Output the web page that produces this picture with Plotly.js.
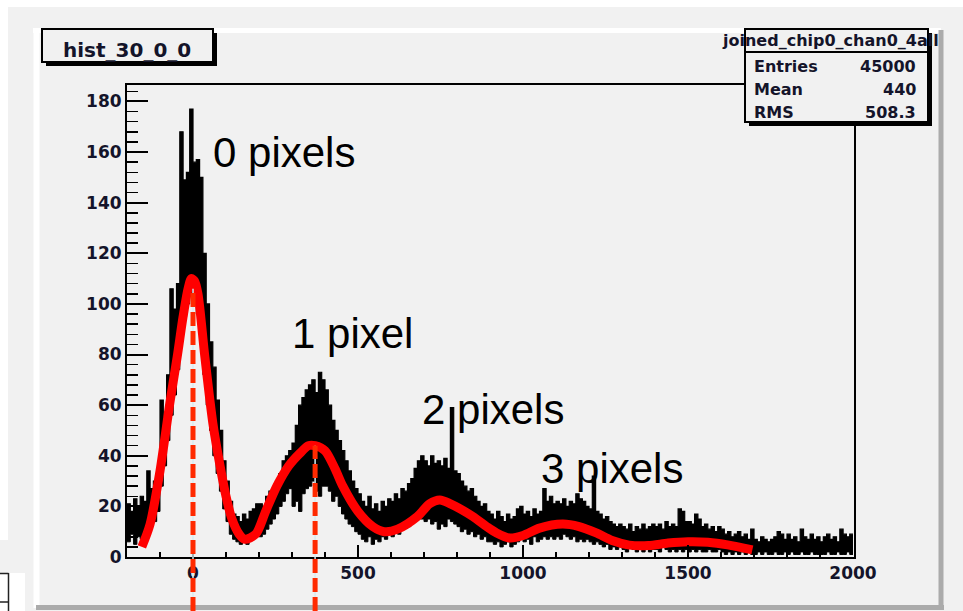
<!DOCTYPE html>
<html><head><meta charset="utf-8">
<script src="https://cdn.plot.ly/plotly-3.0.1.min.js"></script>
<style>html,body{margin:0;padding:0;background:#ffffff;} #chart{width:963px;height:611px;}</style>
</head><body><div id="chart"></div>
<script>
// ---------- data ----------
const binStart = -200;
const binWidth = 10;
// upper envelope of the noisy histogram, one value per 10-unit bin from -200 to 2000
const histHigh = [
  21,18,23,20,24,22,34,27,30,35,
  62,55,72,106,98,108,168,149,152,177,
  156,157,150,120,100,85,75,62,50,38,
  30,22,17,16,14,17,15,18,19,21,
  21,20,24,26,27,30,33,38,40,42,
  45,52,60,63,66,68,70,65,73,70,
  66,60,54,50,46,42,38,34,30,27,
  25,22,20,24,19,21,18,22,20,23,
  22,25,23,27,26,29,31,35,38,40,
  38,36,40,37,38,36,39,35,59,34,
  33,30,28,26,27,24,22,20,21,18,
  17,15,18,16,14,17,15,16,19,20,
  17,18,16,19,17,18,27,22,24,21,
  22,21,23,20,22,21,25,23,22,20,
  19,32,18,17,15,16,14,13,12,13,
  12,11,13,10,12,11,13,11,12,13,
  12,13,11,14,12,13,12,19,18,14,
  14,13,17,15,12,13,11,12,10,12,
  11,9,10,8,9,10,8,9,7,11,
  7,6,8,7,6,7,8,10,9,7,
  9,7,8,6,11,8,7,9,7,8,
  6,8,9,7,8,6,11,9,8,9
];
// lower envelope of the noisy histogram, same bins
const histLow = [
  6,9,5,8,7,10,9,12,14,18,
  28,36,46,56,64,74,85,95,100,104,
  102,96,86,72,60,50,40,33,26,19,
  14,9,7,6,5,6,5,7,8,9,
  8,9,11,13,15,17,20,22,25,27,
  20,22,18,25,27,28,30,26,24,28,
  28,26,22,24,20,17,15,13,12,10,
  9,7,6,8,5,7,6,8,7,9,
  8,10,9,11,12,12,14,15,16,15,
  14,15,13,14,11,13,12,15,14,13,
  12,10,11,9,10,8,9,7,8,6,
  6,5,6,4,5,6,4,5,6,7,
  6,7,5,8,6,7,8,7,8,7,
  8,7,9,8,7,8,6,7,6,7,
  6,5,6,5,4,5,3,4,3,4,
  3,2,4,3,2,3,2,3,2,3,
  3,2,4,3,2,3,2,3,2,3,
  2,3,2,3,2,2,3,2,2,3,
  2,1,2,1,2,1,2,1,2,1,
  1,2,1,2,1,1,2,1,1,2,
  1,2,1,1,2,1,1,2,1,1,
  1,1,2,1,1,2,1,1,2,1
];
// red fit curve
const fitX = [-155,-130,-100,-70,-48,-30,-15,-5,5,15,36,60,82,100,118,140,157,190,220,254,290,324,350,370,400,430,454,500,545,580,620,680,717,748,780,848,890,920,959,1000,1050,1120,1170,1222,1270,1322,1380,1440,1500,1560,1620,1695];
const fitY = [4,13,34,61,79,95,106,110,109,104,79,53,36,24,15,9,7,9,18,28,36,41,44,44,42,35,28,18,12,10,11,16,21,22.5,21,16,12,9.5,7.5,8.5,11.4,13,12,9.5,6.5,4.7,4.5,5.5,6,5.8,4.8,2.8];
// dashed peak markers
const peakX = [0, 370];
const peakTop = [106, 44];
// peak labels
const peakLabels = ['0 pixels', '1 pixel', '2 pixels', '3 pixels'];
const labelX = [54, 293, 687, 1047];
const labelY = [160, 88.4, 58.4, 35.1];
// boxes
const histName = 'hist_30_0_0';
const statsTitle = 'joined_chip0_chan0_4all';
const statNames = ['Entries', 'Mean', 'RMS'];
const statValues = ['45000', '440', '508.3'];

// ---------- geometry ----------
const W = 963, H = 611;
const L = 127, R = 854, T = 85, B = 557;
const xRange = [-200, 2003];
const yRange = [0, 186.5];
const px = v => (v - L) / (R - L);
const py = v => (B - v) / (B - T);
const GRAY = '#f1f1f1';

// step band edges
const edges = [], hiY = [], loY = [];
for (let i = 0; i <= histHigh.length; i++) {
  edges.push(binStart + i * binWidth);
  const k = Math.min(i, histHigh.length - 1);
  hiY.push(histHigh[k]);
  loY.push(histLow[k]);
}

const traces = [
  {x: edges, y: loY, type: 'scatter', mode: 'lines', line: {color: '#000', width: 1, shape: 'hv'}, hoverinfo: 'skip'},
  {x: edges, y: hiY, type: 'scatter', mode: 'lines', fill: 'tonexty', fillcolor: '#000',
   line: {color: '#000', width: 1.2, shape: 'hv'}, hoverinfo: 'skip'},
  {x: fitX, y: fitY, type: 'scatter', mode: 'lines', line: {color: '#ff0000', width: 9, shape: 'spline', smoothing: 0.8}, hoverinfo: 'skip'}
];

function rect(x0, y0, x1, y1, fill, lineColor, lw) {
  return {type: 'rect', xref: 'paper', yref: 'paper', x0: px(x0), x1: px(x1), y0: py(y1), y1: py(y0),
    fillcolor: fill, line: {color: lineColor || 'rgba(0,0,0,0)', width: lw || 0}, layer: 'above'};
}
function seg(x0, y0, x1, y1, color, lw) {
  return {type: 'line', xref: 'paper', yref: 'paper', x0: px(x0), x1: px(x1), y0: py(y0), y1: py(y1),
    line: {color: color, width: lw}, layer: 'above'};
}

const shapes = [];
// white surroundings and pad bevel
shapes.push(rect(0, 0, W, 7, '#ffffff'));
shapes.push(rect(0, 0, 8, 540, '#ffffff'));
shapes.push(seg(36.5, 30, 36.5, 608, '#ffffff', 6));
shapes.push(seg(33, 30.5, 941, 30.5, '#ffffff', 5));
shapes.push(seg(941, 30, 941, 609, '#ababab', 5));
shapes.push(seg(36, 607.5, 944, 607.5, '#ababab', 5));
// small icon at the bottom left
shapes.push(rect(0, 573, 25, 611, '#ffffff'));
shapes.push(seg(8.5, 573, 8.5, 611, '#222', 1.5));
shapes.push(seg(0, 573.5, 8.5, 573.5, '#222', 1.5));
shapes.push(seg(0, 602, 8.5, 602, '#222', 1.5));
// dashed peak lines
peakX.forEach((xv, i) => {
  shapes.push({type: 'line', xref: 'x', yref: 'paper', x0: xv, x1: xv, y0: py(611), y1: peakTop[i] / yRange[1],
    line: {color: '#d6ecf0', width: 1.5}, layer: 'above'});
  shapes.push({type: 'line', xref: 'x', yref: 'paper', x0: xv, x1: xv, y0: py(611), y1: peakTop[i] / yRange[1],
    line: {color: '#ff2a00', width: 5, dash: '14px,5px'}, layer: 'above'});
});
// title box
shapes.push(rect(46, 33, 217, 66, '#000'));
shapes.push(rect(42, 29, 213, 62, GRAY, '#000', 2));
// stats box
shapes.push(rect(749, 33, 932, 126, '#000'));
shapes.push(rect(745, 29, 928, 122, GRAY, '#000', 2));
shapes.push(seg(745, 52, 928, 52, '#000', 2));

const boxFont = {family: 'DejaVu Sans', size: 16, color: '#14142a', weight: 'bold'};
const annotations = [];
peakLabels.forEach((t, i) => annotations.push({
  text: t, x: labelX[i], y: labelY[i], xref: 'x', yref: 'y', xanchor: 'left', yanchor: 'middle',
  showarrow: false, font: {family: 'Liberation Sans, Arial, sans-serif', size: 42, color: '#000'}
}));
annotations.push({text: histName, x: px(127), y: py(50), xref: 'paper', yref: 'paper', xanchor: 'center', yanchor: 'middle',
  showarrow: false, font: {family: 'DejaVu Sans', size: 20, color: '#14142a', weight: 'bold'}});
annotations.push({text: statsTitle, x: px(830), y: py(40.5), xref: 'paper', yref: 'paper', xanchor: 'center', yanchor: 'middle',
  showarrow: false, font: boxFont});
const rowY = [66.5, 89.5, 112.5];
statNames.forEach((n, i) => {
  annotations.push({text: n, x: px(752), y: py(rowY[i]), xref: 'paper', yref: 'paper', xanchor: 'left', yanchor: 'middle', showarrow: false, font: boxFont});
  annotations.push({text: statValues[i], x: px(918), y: py(rowY[i]), xref: 'paper', yref: 'paper', xanchor: 'right', yanchor: 'middle', showarrow: false, font: boxFont});
});

const tickFont = {family: 'DejaVu Sans', size: 17, color: '#14142a', weight: 'bold'};
const layout = {
  width: W, height: H,
  margin: {l: L, r: W - R, t: T, b: H - B, pad: 0},
  paper_bgcolor: GRAY, plot_bgcolor: GRAY,
  showlegend: false,
  xaxis: {range: xRange, showgrid: false, zeroline: false, showline: true, linecolor: '#000', linewidth: 2, mirror: true,
    ticks: 'inside', ticklen: 12, tickwidth: 2, tickcolor: '#000', tickmode: 'linear', tick0: 0, dtick: 500,
    tickfont: tickFont, minor: {ticks: 'inside', ticklen: 5, tickwidth: 1.5, tickcolor: '#000', dtick: 100, tick0: 0, showgrid: false}},
  yaxis: {range: yRange, showgrid: false, zeroline: false, showline: true, linecolor: '#000', linewidth: 2, mirror: true,
    ticks: 'inside', ticklen: 21, tickwidth: 2, tickcolor: '#000', tickmode: 'linear', tick0: 0, dtick: 20,
    tickfont: tickFont, minor: {ticks: 'inside', ticklen: 11, tickwidth: 1.5, tickcolor: '#000', dtick: 4, tick0: 0, showgrid: false}},
  shapes: shapes,
  annotations: annotations
};

Plotly.newPlot('chart', traces, layout, {displayModeBar: false, staticPlot: true});
</script>
</body></html>
